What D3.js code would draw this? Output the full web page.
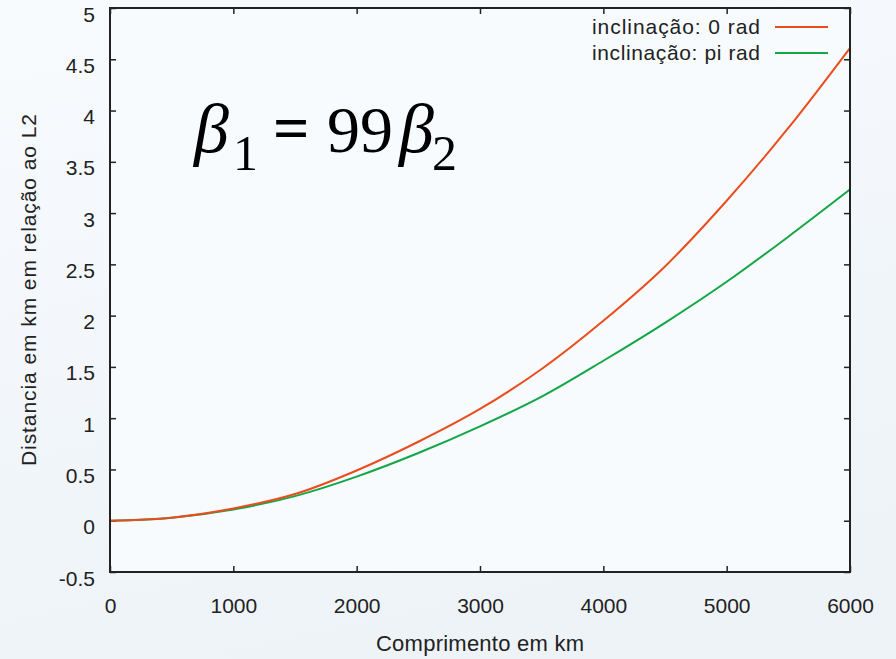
<!DOCTYPE html>
<html>
<head>
<meta charset="utf-8">
<script src="https://cdn.jsdelivr.net/npm/d3@7/dist/d3.min.js"></script>
<style>
  html, body { margin: 0; padding: 0; }
  body { width: 896px; height: 659px; overflow: hidden; }
  svg { display: block; font-family: "Liberation Sans", Arial, sans-serif; }
</style>
</head>
<body>
<div id="chart"></div>
<script>
// distance along the path (km)
const comprimento = [0, 500, 1000, 1500, 2000, 2500, 3000, 3500, 4000, 4500, 5000, 5500, 6000];
// distance to L2 (km), inclination 0 rad
const inclinacao0 = [0, 0.03, 0.12, 0.26, 0.49, 0.77, 1.09, 1.48, 1.95, 2.48, 3.12, 3.83, 4.61];
// distance to L2 (km), inclination pi rad
const inclinacaoPi = [0, 0.03, 0.11, 0.24, 0.43, 0.66, 0.92, 1.21, 1.56, 1.93, 2.33, 2.77, 3.23];

const xTicks = [0, 1000, 2000, 3000, 4000, 5000, 6000];
const xTickLabels = ['0', '1000', '2000', '3000', '4000', '5000', '6000'];
const yTicks = [-0.5, 0, 0.5, 1, 1.5, 2, 2.5, 3, 3.5, 4, 4.5, 5];
const yTickLabels = ['-0.5', '0', '0.5', '1', '1.5', '2', '2.5', '3', '3.5', '4', '4.5', '5'];

const series = [
  {label: 'inclinação: 0 rad', values: inclinacao0, color: '#e94d1e'},
  {label: 'inclinação: pi rad', values: inclinacaoPi, color: '#12a646'}
];

const width = 896, height = 659,
  margin = {top: 8, right: 46, bottom: 87, left: 110},
  innerW = width - margin.left - margin.right,
  innerH = height - margin.top - margin.bottom;

const svg = d3.select('#chart').append('svg')
  .attr('width', width)
  .attr('height', height);

// soft slide-like background
const grad = svg.append('defs').append('linearGradient')
  .attr('id', 'bg').attr('x1', 0).attr('y1', 0).attr('x2', 0.3).attr('y2', 1);
grad.append('stop').attr('offset', '0%').attr('stop-color', '#f8fbfe');
grad.append('stop').attr('offset', '100%').attr('stop-color', '#eef3f7');
svg.append('rect').attr('width', width).attr('height', height).attr('fill', 'url(#bg)');

const g = svg.append('g')
  .attr('transform', 'translate(' + margin.left + ',' + margin.top + ')');

const x = d3.scaleLinear().domain([0, 6000]).range([0, innerW]);
const y = d3.scaleLinear().domain([-0.5, 5]).range([innerH, 0]);

g.append('rect')
  .attr('width', innerW).attr('height', innerH)
  .attr('fill', '#f8fbfd');

// inward ticks on all four sides, gnuplot style
const tickLen = 6;
const axisStyle = sel => {
  sel.select('.domain').remove();
  sel.selectAll('.tick line').attr('stroke', '#222').attr('stroke-width', 1.5);
  sel.selectAll('.tick text')
    .attr('fill', '#222')
    .style('font-size', '21px');
};

g.append('g')
  .attr('transform', 'translate(0,' + innerH + ')')
  .call(d3.axisBottom(x).tickValues(xTicks).tickSize(-tickLen).tickPadding(26)
    .tickFormat((d, i) => xTickLabels[i]))
  .call(axisStyle);

g.append('g')
  .call(d3.axisTop(x).tickValues(xTicks).tickSize(-tickLen).tickFormat(''))
  .call(axisStyle);

// labels sit a little below their tick, as in the original
g.append('g')
  .call(d3.axisLeft(y).tickValues(yTicks).tickSize(-tickLen).tickPadding(15)
    .tickFormat((d, i) => yTickLabels[i]))
  .call(axisStyle)
  .selectAll('.tick text').attr('dy', '0.62em');

g.append('g')
  .attr('transform', 'translate(' + innerW + ',0)')
  .call(d3.axisRight(y).tickValues(yTicks).tickSize(-tickLen).tickFormat(''))
  .call(axisStyle);

const line = d3.line()
  .x((d, i) => x(comprimento[i]))
  .y(d => y(d))
  .curve(d3.curveMonotoneX);

// green first so the orange sits on top where they overlap
series.slice().reverse().forEach(s => {
  g.append('path')
    .datum(s.values)
    .attr('fill', 'none')
    .attr('stroke', s.color)
    .attr('stroke-width', 2)
    .attr('d', line);
});

g.append('rect')
  .attr('width', innerW).attr('height', innerH)
  .attr('fill', 'none')
  .attr('stroke', '#222')
  .attr('stroke-width', 2);

// legend
const legend = g.append('g')
  .attr('transform', 'translate(' + (innerW - 90) + ',19)');
series.forEach((s, i) => {
  const row = legend.append('g').attr('transform', 'translate(0,' + i * 26 + ')');
  row.append('text')
    .attr('text-anchor', 'end')
    .attr('dy', '0.35em')
    .attr('fill', '#222')
    .attr('textLength', 168)
    .attr('lengthAdjust', 'spacing')
    .style('font-size', '21px')
    .text(s.label);
  row.append('line')
    .attr('x1', 15).attr('x2', 68)
    .attr('stroke', s.color)
    .attr('stroke-width', 2);
});

// axis titles
svg.append('text')
  .attr('x', 480)
  .attr('y', 651)
  .attr('text-anchor', 'middle')
  .attr('fill', '#222')
  .attr('textLength', 208)
  .attr('lengthAdjust', 'spacing')
  .style('font-size', '22px')
  .text('Comprimento em km');

svg.append('text')
  .attr('transform', 'translate(36,290) rotate(-90)')
  .attr('text-anchor', 'middle')
  .attr('fill', '#222')
  .attr('textLength', 352)
  .attr('lengthAdjust', 'spacing')
  .style('font-size', '21px')
  .text('Distancia em km em relação ao L2');

// big formula annotation
const f = svg.append('g')
  .style('font-family', '"Liberation Serif", "Times New Roman", serif')
  .attr('fill', '#000');
f.append('text').attr('x', 194).attr('y', 152).style('font-size', '70px')
  .style('font-style', 'italic').text('β');
f.append('text').attr('x', 233).attr('y', 170).style('font-size', '50px').text('1');
f.append('text').attr('x', 273).attr('y', 150).style('font-size', '64px')
  .style('font-weight', 'bold').text('=');
f.append('text').attr('x', 327).attr('y', 152).style('font-size', '66px').text('99');
f.append('text').attr('x', 399).attr('y', 152).style('font-size', '70px')
  .style('font-style', 'italic').text('β');
f.append('text').attr('x', 432).attr('y', 170).style('font-size', '50px').text('2');
</script>
</body>
</html>
